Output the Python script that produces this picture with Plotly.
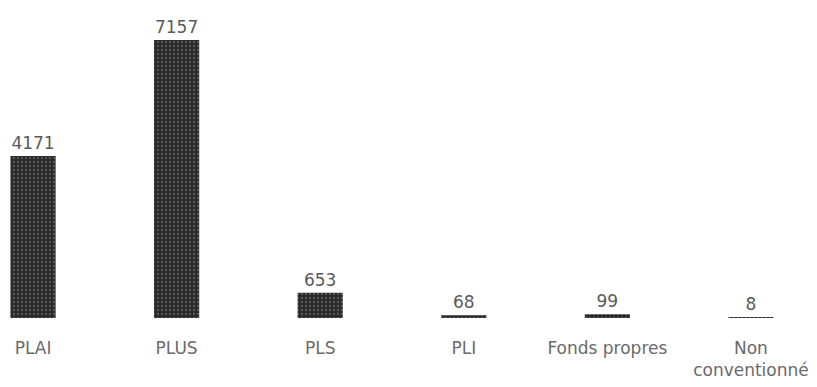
import plotly.graph_objects as go

categories = ["PLAI", "PLUS", "PLS", "PLI", "Fonds propres", "Non<br>conventionné"]
values = [4171, 7157, 653, 68, 99, 8]
value_labels = ["4171", "7157", "653", "68", "99", "8"]

fig = go.Figure(go.Bar(
    x=categories, y=values, text=value_labels, textposition="outside",
    cliponaxis=False,
    marker=dict(color="#2a2a2a", line=dict(width=0),
                pattern=dict(shape=".", fgcolor="#8a8a8a", bgcolor="#2a2a2a", size=4, solidity=0.25)),
    textfont=dict(family="DejaVu Sans", size=17, color="#5a5a5a"),
))

fig.update_layout(
    width=817, height=387, margin=dict(l=0, r=0, t=0, b=69),
    paper_bgcolor="white", plot_bgcolor="white",
    bargap=0.685, showlegend=False,
    xaxis=dict(range=[-0.23, 5.46], showgrid=False, showline=False, ticks="",
               tickfont=dict(family="DejaVu Sans", size=17, color="#6a6a6a"), ticklabelstandoff=18),
    yaxis=dict(range=[0, 8187], visible=False),
)
fig.write_html("out.html")
